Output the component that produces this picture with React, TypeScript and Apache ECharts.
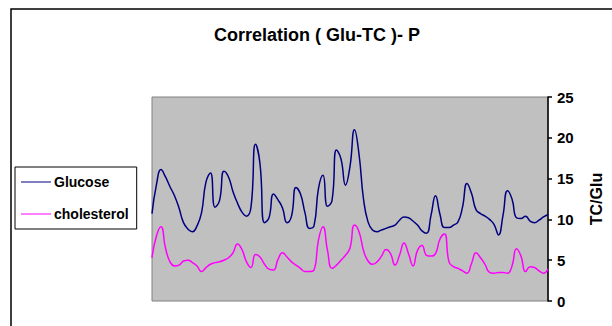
import React, { useEffect, useRef } from "react";
import * as echarts from "echarts";

const titleText = "Correlation ( Glu-TC )- P";
const yAxisName = "TC/Glu";
const seriesNames = ["Glucose", "cholesterol"];

const glucose = [
  10.7, 14.3, 16.1, 15.2, 14.0, 12.9, 11.4, 9.6, 8.8, 8.5,
  9.2, 10.8, 14.6, 15.7, 11.5, 12.3, 15.9, 15.2, 13.4, 12.0,
  10.9, 10.4, 11.5, 19.2, 16.8, 9.6, 10.2, 13.1, 12.4, 11.4,
  9.6, 10.4, 13.9, 13.1, 10.8, 8.9, 9.2, 13.8, 15.4, 11.6,
  12.3, 18.5, 17.4, 14.2, 16.5, 21.0, 18.0, 12.5, 9.7, 8.7,
  8.5, 8.7, 8.9, 9.1, 9.3, 9.9, 10.3, 10.2, 9.8, 9.3,
  8.6, 8.3, 10.5, 12.9, 10.6, 9.0, 9.0, 9.3, 9.7, 11.5,
  14.4, 13.2, 11.2, 10.7, 10.4, 10.0, 9.4, 8.1, 10.5, 13.5,
  12.5, 10.2, 10.1, 10.4, 9.8, 9.6, 9.9, 10.3, 10.6,
];

const cholesterol = [
  5.3, 8.0, 9.1, 6.5, 4.8, 4.3, 4.4, 4.9, 5.0, 4.7,
  4.3, 3.6, 4.1, 4.5, 4.7, 4.8, 5.0, 5.3, 5.9, 7.0,
  6.3, 4.8, 4.1, 5.7, 5.4, 4.5, 3.9, 3.8, 5.1, 5.9,
  5.4, 4.8, 4.4, 4.0, 3.6, 3.6, 3.8, 7.5, 9.1, 6.2,
  4.0, 4.4, 5.0, 5.6, 6.5, 9.3, 8.5, 6.2, 4.9, 4.5,
  4.8, 5.5, 6.3, 5.8, 4.4, 5.6, 7.1, 5.8, 4.3, 6.2,
  6.8, 5.6, 5.5, 5.8, 7.6, 8.2, 4.8, 4.2, 4.0, 3.7,
  3.4, 4.6, 5.9, 5.3, 4.5, 3.5, 3.4, 3.5, 3.5, 3.4,
  4.3, 6.4, 5.5, 3.6, 4.2, 4.1, 3.7, 3.4, 3.9,
];

const categories = glucose.map((_, i) => String(i + 1));

const FONT = "Arial, 'Liberation Sans', sans-serif";

export default function App() {
  const ref = useRef<HTMLDivElement>(null);
  useEffect(() => {
    if (!ref.current) return;
    const chart = echarts.init(ref.current, undefined, { renderer: "svg" });
    chart.setOption({
      animation: false,
      backgroundColor: "#ffffff",
      grid: {
        left: 152,
        top: 97,
        width: 405,
        height: 204,
        show: true,
        backgroundColor: "#C0C0C0",
        borderColor: "#808080",
        borderWidth: 1,
      },
      legend: {
        orient: "vertical",
        left: 15,
        top: 167,
        padding: [8, 8, 8, 6],
        itemWidth: 30,
        itemHeight: 14,
        itemGap: 18,
        borderColor: "#000000",
        borderWidth: 1,
        backgroundColor: "#ffffff",
        textStyle: { fontFamily: FONT, fontWeight: "bold", fontSize: 14, color: "#000", padding: [0, 0, 0, -2] },
        data: seriesNames.map((n) => ({ name: n, icon: "path://M0,5 L30,5 L30,6 L0,6 Z" })),
      },
      xAxis: {
        type: "category",
        data: categories,
        boundaryGap: false,
        show: false,
      },
      yAxis: {
        type: "value",
        position: "right",
        min: 0,
        max: 25,
        interval: 5,
        name: yAxisName,
        nameLocation: "middle",
        nameRotate: 90,
        nameGap: 40,
        nameTextStyle: { fontFamily: FONT, fontWeight: "bold", fontSize: 16, color: "#000" },
        axisLine: { show: true, lineStyle: { color: "#000", width: 1.5 } },
        axisTick: { show: true, inside: false, length: 4, lineStyle: { color: "#000", width: 1.5 } },
        axisLabel: { margin: 9, fontFamily: FONT, fontWeight: "bold", fontSize: 15, color: "#000" },
        splitLine: { show: false },
      },
      graphic: [
        {
          type: "rect",
          shape: { x: 11, y: 9, width: 700, height: 400 },
          style: { fill: "none", stroke: "#000", lineWidth: 1.5 },
          silent: true,
          z: -10,
        },
        {
          type: "text",
          x: 317,
          y: 35,
          style: {
            text: titleText,
            fontFamily: FONT,
            fontWeight: "bold",
            fontSize: 18,
            fill: "#000",
            textAlign: "center",
            textVerticalAlign: "middle",
          },
        },
      ],
      series: [
        {
          name: seriesNames[0],
          type: "line",
          data: glucose,
          smooth: 0.5,
          symbol: "none",
          color: "#000080",
          lineStyle: { color: "#000080", width: 1.5 },
        },
        {
          name: seriesNames[1],
          type: "line",
          data: cholesterol,
          smooth: 0.5,
          symbol: "none",
          color: "#FF00FF",
          lineStyle: { color: "#FF00FF", width: 1.5 },
        },
      ],
    });
    return () => chart.dispose();
  }, []);
  return (
    <div
      ref={ref}
      style={{ position: "fixed", left: 0, top: 0, width: 612, height: 326 }}
    />
  );
}
